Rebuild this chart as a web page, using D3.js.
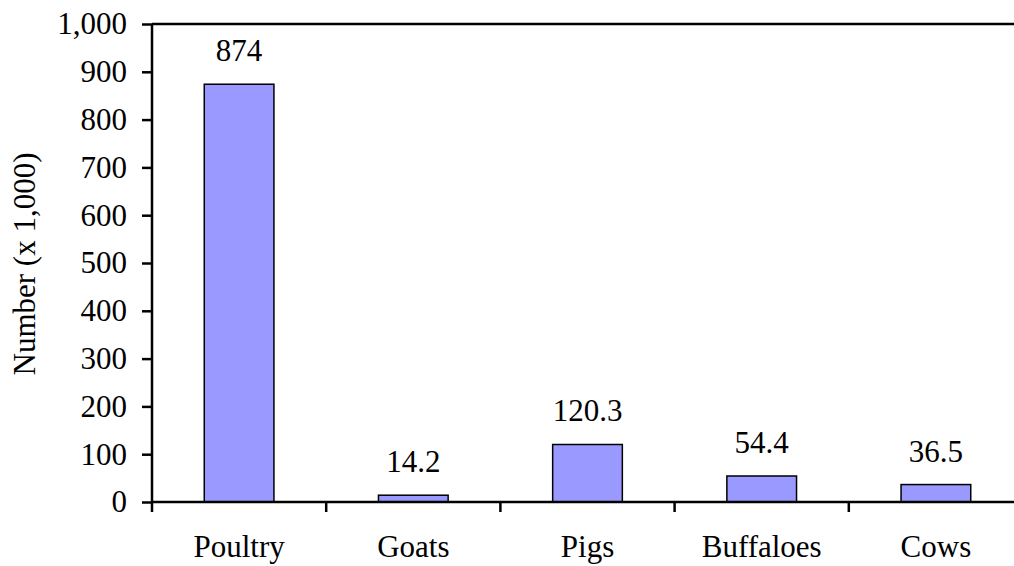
<!DOCTYPE html>
<html>
<head>
<meta charset="utf-8">
<script src="https://cdn.jsdelivr.net/npm/d3@7"></script>
</head>
<body style="margin:0">
<svg></svg>
<script>
const width = 1014, height = 566
const categories = ["Poultry", "Goats", "Pigs", "Buffaloes", "Cows"]
const values = [874, 14.2, 120.3, 54.4, 36.5]
const valueLabels = ["874", "14.2", "120.3", "54.4", "36.5"]
const yTicks = [0, 100, 200, 300, 400, 500, 600, 700, 800, 900, 1000]

const plotLeft = 152, plotRight = 1023, plotTop = 24, plotBottom = 502
const fontSize = 31
const fontName = "Liberation Serif"

var svg = d3.select("svg")
    .attr("width", width)
    .attr("height", height)
    .style("display", "block");

const x = d3.scaleBand()
    .domain(categories)
    .range([plotLeft, plotRight])
    .padding(0);

const y = d3.scaleLinear()
    .domain([0, 1000])
    .range([plotBottom, plotTop]);

const barW = x.bandwidth() * 0.4;

// bars
svg.selectAll("rect.bar")
    .data(values)
    .enter()
    .append("rect")
    .attr("class", "bar")
    .attr("x", (d, i) => x(categories[i]) + (x.bandwidth() - barW) / 2)
    .attr("y", d => y(d))
    .attr("width", barW)
    .attr("height", d => y(0) - y(d))
    .attr("fill", "#9999ff")
    .attr("stroke", "#000")
    .attr("stroke-width", 1.5);

// value labels
svg.selectAll("text.val")
    .data(values)
    .enter()
    .append("text")
    .attr("class", "val")
    .attr("x", (d, i) => x(categories[i]) + x.bandwidth() / 2)
    .attr("y", d => y(d) - 23)
    .attr("text-anchor", "middle")
    .attr("font-family", fontName)
    .attr("font-size", fontSize)
    .text((d, i) => valueLabels[i]);

// y axis
const yAxis = svg.append("g")
    .attr("transform", `translate(${plotLeft},0)`)
    .call(d3.axisLeft(y)
        .tickValues(yTicks)
        .tickSize(10)
        .tickPadding(15)
        .tickFormat(d3.format(",")))
    .attr("font-family", fontName)
    .attr("font-size", fontSize);
yAxis.select(".domain").attr("stroke", "#000").attr("stroke-width", 2.5).attr("d", `M0,${plotTop}V${plotBottom}`);
yAxis.selectAll(".tick line").attr("stroke", "#000").attr("stroke-width", 2.5);
yAxis.selectAll(".tick text").attr("fill", "#000");

// x axis
const xTickPos = categories.map(c => x(c)).concat([plotRight]);
const xAxis = svg.append("g");
xAxis.append("line")
    .attr("x1", plotLeft).attr("x2", plotRight)
    .attr("y1", plotBottom).attr("y2", plotBottom)
    .attr("stroke", "#000").attr("stroke-width", 2.5);
xAxis.selectAll("line.xt")
    .data(xTickPos)
    .enter()
    .append("line")
    .attr("class", "xt")
    .attr("x1", d => d).attr("x2", d => d)
    .attr("y1", plotBottom).attr("y2", plotBottom + 10)
    .attr("stroke", "#000").attr("stroke-width", 2.5);
xAxis.selectAll("text")
    .data(categories)
    .enter()
    .append("text")
    .attr("x", d => x(d) + x.bandwidth() / 2)
    .attr("y", 557)
    .attr("text-anchor", "middle")
    .attr("font-family", fontName)
    .attr("font-size", fontSize)
    .text(d => d);

// top and right border
svg.append("path")
    .attr("d", `M${plotLeft},${plotTop}H${plotRight}V${plotBottom}`)
    .attr("fill", "none")
    .attr("stroke", "#000")
    .attr("stroke-width", 2.5);

// y title
svg.append("text")
    .attr("transform", `translate(35,264) rotate(-90)`)
    .attr("text-anchor", "middle")
    .attr("font-family", fontName)
    .attr("font-size", fontSize)
    .text("Number (x 1,000)");
</script>
</body>
</html>
